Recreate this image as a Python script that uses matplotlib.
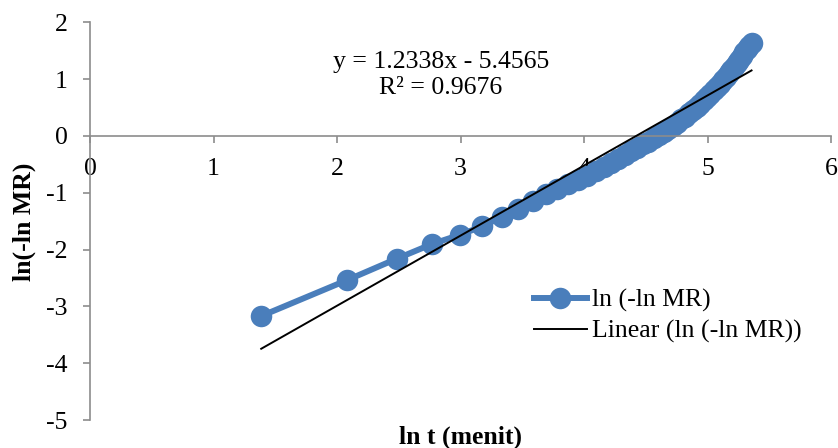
import numpy as np
import matplotlib.pyplot as plt
from matplotlib.lines import Line2D

# drying time (menit) and ln(-ln MR)
t_menit = [4, 8, 12, 16, 20, 24, 28, 32, 36, 40, 44, 48, 52, 56, 60, 64, 68, 72,
           76, 80, 84, 88, 92, 96, 100, 104, 108, 112, 116, 120, 124, 128, 132,
           136, 140, 144, 148, 152, 156, 160, 164, 168, 172, 176, 180, 184, 188,
           192, 196, 200, 204, 208, 212]
ln_ln_mr = [-3.17, -2.54, -2.16, -1.90, -1.74, -1.59, -1.43, -1.28, -1.14, -1.02,
            -0.93, -0.84, -0.77, -0.70, -0.62, -0.55, -0.47, -0.40, -0.34, -0.27,
            -0.21, -0.15, -0.10, -0.04, 0.01, 0.07, 0.12, 0.18, 0.23, 0.29, 0.34,
            0.40, 0.45, 0.51, 0.57, 0.63, 0.69, 0.74, 0.80, 0.86, 0.92, 0.98,
            1.04, 1.10, 1.16, 1.22, 1.28, 1.34, 1.41, 1.47, 1.53, 1.58, 1.64]

slope = 1.2338
intercept = -5.4565
r2 = 0.9676

x_ticks = [0, 1, 2, 3, 4, 5, 6]
y_ticks = [-5, -4, -3, -2, -1, 0, 1, 2]

blue = '#4a7ebb'
grey = '#8c8c8c'
fs = 18.5

plt.rcParams['font.family'] = ['Liberation Serif', 'DejaVu Serif']

fig = plt.figure(figsize=(8.38, 4.48), dpi=100)
ax = fig.add_axes([90 / 838, 1 - 420 / 448, 741 / 838, 397.7 / 448])

ln_t = np.log(t_menit)
ax.plot(ln_t, ln_ln_mr, color=blue, lw=4.3, marker='o', ms=15.5,
        markeredgewidth=0, zorder=2)

x_fit = np.array([ln_t[0], ln_t[-1]])
ax.plot(x_fit, slope * x_fit + intercept, color='black', lw=1.4, zorder=3)

ax.set_xlim(0, 6)
ax.set_ylim(-5, 2)
ax.set_xticks(x_ticks)
ax.set_yticks(y_ticks)
ax.set_xticklabels([str(v) for v in x_ticks])
ax.set_yticklabels([str(v) for v in y_ticks])

ax.spines['bottom'].set_position(('data', 0))
ax.spines['top'].set_visible(False)
ax.spines['right'].set_visible(False)
for s in ('left', 'bottom'):
    ax.spines[s].set_color(grey)
    ax.spines[s].set_linewidth(1.2)
ax.tick_params(axis='both', colors=grey, labelcolor='black', labelsize=fs,
               length=5, width=1.2, direction='out')
ax.tick_params(axis='x', pad=11)
ax.tick_params(axis='y', pad=11)

fig.text(460 / 838, 1 - 437 / 448, 'ln t (menit)', ha='center', va='center',
         fontsize=fs, fontweight='bold')
fig.text(24 / 838, 1 - 222 / 448, 'ln(-ln MR)', ha='center', va='center',
         rotation=90, fontsize=fs, fontweight='bold')

ax.text(441 / 838, 1 - 75 / 448,
        f'y = {slope}x - {abs(intercept)}\nR² = {r2}',
        transform=fig.transFigure, ha='center', va='center', fontsize=fs,
        linespacing=1.25)

handles = [Line2D([], [], color=blue, lw=4.3, marker='o', ms=15.5, markeredgewidth=0),
           Line2D([], [], color='black', lw=1.4)]
labels = ['ln (-ln MR)', 'Linear (ln (-ln MR))']
fig.legend(handles, labels, loc='center left',
           bbox_to_anchor=(534 / 838, 1 - 316 / 448), frameon=False,
           fontsize=fs, handlelength=2.06, handletextpad=0.2,
           borderpad=0, borderaxespad=0, labelspacing=0.3)

fig.savefig('out.png', dpi=100)
